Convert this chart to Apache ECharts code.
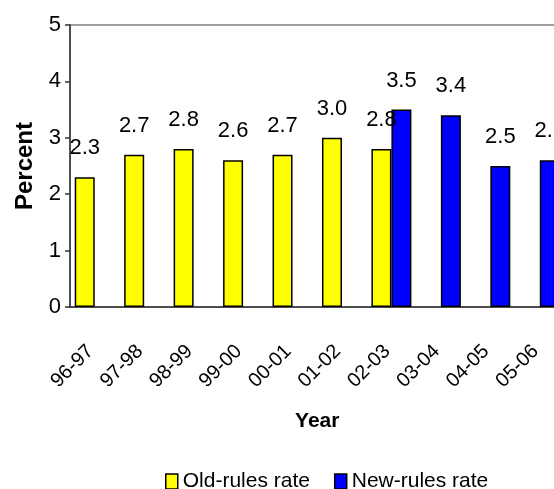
<!DOCTYPE html>
<html>
<head>
<meta charset="utf-8">
<script src="https://cdn.jsdelivr.net/npm/echarts@6/dist/echarts.min.js"></script>
<style>
  html, body { margin: 0; padding: 0; background: #fff; }
  #chart { width: 554px; height: 489px; }
</style>
</head>
<body>
<div id="chart"></div>
<script>
const categories = ['96-97', '97-98', '98-99', '99-00', '00-01', '01-02', '02-03', '03-04', '04-05', '05-06'];
const oldRulesRate = [2.3, 2.7, 2.8, 2.6, 2.7, 3.0, 2.8, null, null, null];
const newRulesRate = [null, null, null, null, null, null, 3.5, 3.4, 2.5, 2.6];
const yMin = 0, yMax = 5, yInterval = 1;

const FONT = 'Liberation Sans, Arial, sans-serif';
const chart = echarts.init(document.getElementById('chart'));

const barLabel = {
  show: true,
  position: 'top',
  distance: 18,
  color: '#000',
  fontFamily: FONT,
  fontSize: 22,
  formatter: p => (p.value == null ? '' : Number(p.value).toFixed(1))
};

chart.setOption({
  animation: false,
  backgroundColor: '#fff',
  grid: {
    left: 70, top: 25, right: -10.5, bottom: 182,
    containLabel: false,
    outerBoundsMode: 'none',
    show: true, borderColor: '#808080', borderWidth: 1.5, backgroundColor: 'transparent'
  },
  legend: {
    data: ['Old-rules rate', 'New-rules rate'],
    left: 160, top: 466,
    icon: 'rect', itemWidth: 12, itemHeight: 15, itemGap: 24,
    itemStyle: { borderColor: '#000', borderWidth: 1.5 },
    textStyle: { fontFamily: FONT, fontSize: 21, color: '#000' }
  },
  xAxis: {
    type: 'category',
    data: categories,
    name: 'Year',
    nameLocation: 'middle',
    nameGap: 104,
    nameMoveOverlap: false,
    nameTextStyle: { fontFamily: FONT, fontSize: 21, fontWeight: 'bold', color: '#000' },
    axisLine: { lineStyle: { color: '#333', width: 1.5 } },
    axisTick: { show: false },
    axisLabel: {
      rotate: 45, interval: 0, margin: 37,
      padding: [0, 6, 0, 0],
      fontFamily: FONT, fontSize: 20, color: '#000'
    }
  },
  yAxis: {
    type: 'value',
    min: yMin, max: yMax, interval: yInterval,
    name: 'Percent',
    nameLocation: 'middle',
    nameGap: 33,
    nameRotate: 90,
    nameMoveOverlap: false,
    nameTextStyle: { fontFamily: FONT, fontSize: 24, fontWeight: 'bold', color: '#000' },
    axisLine: { show: true, lineStyle: { color: '#333', width: 1.5 } },
    axisTick: { show: true, inside: false, length: 5, lineStyle: { color: '#333', width: 1.5 } },
    axisLabel: { margin: 9, fontFamily: FONT, fontSize: 22, color: '#000' },
    splitLine: { show: false }
  },
  series: [
    {
      name: 'Old-rules rate',
      type: 'bar',
      data: oldRulesRate,
      barWidth: 20,
      barGap: '0%',
      itemStyle: { color: '#ffff00', borderColor: '#000', borderWidth: 1.5 },
      label: barLabel
    },
    {
      name: 'New-rules rate',
      type: 'bar',
      data: newRulesRate,
      barWidth: 20,
      barGap: '0%',
      itemStyle: { color: '#0000ff', borderColor: '#000', borderWidth: 1.5 },
      label: barLabel
    }
  ]
});
</script>
</body>
</html>
